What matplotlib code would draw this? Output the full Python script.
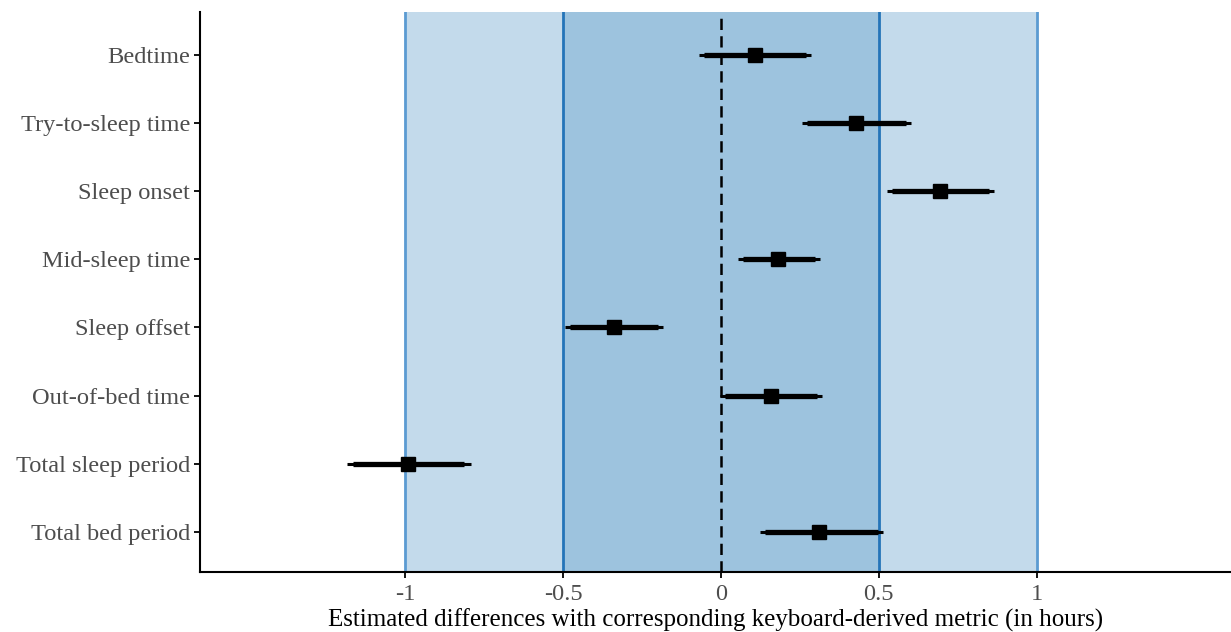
import matplotlib.pyplot as plt
import numpy as np

plt.rcParams['font.family'] = ['Liberation Serif', 'DejaVu Serif']

metrics = ["Bedtime", "Try-to-sleep time", "Sleep onset", "Mid-sleep time",
           "Sleep offset", "Out-of-bed time", "Total sleep period", "Total bed period"]
estimate = [0.108, 0.428, 0.694, 0.181, -0.339, 0.158, -0.992, 0.311]
# thick segment
inner_lo = [-0.054, 0.273, 0.542, 0.070, -0.478, 0.013, -1.166, 0.140]
inner_hi = [0.270, 0.586, 0.849, 0.298, -0.200, 0.304, -0.815, 0.497]
# thin segment
outer_lo = [-0.070, 0.257, 0.526, 0.054, -0.494, -0.003, -1.185, 0.124]
outer_hi = [0.285, 0.602, 0.865, 0.314, -0.184, 0.320, -0.792, 0.513]

xticks = [-1, -0.5, 0, 0.5, 1]
xticklabels = ["-1", "-0.5", "0", "0.5", "1"]

ypos = np.arange(len(metrics), 0, -1)

fig = plt.figure(figsize=(12.31, 6.32), dpi=100)
ax = fig.add_axes([200/1231, 60/632, 1 - 200/1231, 560/632])

ax.axvspan(-1, 1, color='#c3daeb', lw=0, zorder=0)
ax.axvspan(-0.5, 0.5, color='#9dc3de', lw=0, zorder=0.5)
for v in (-1, 1):
    ax.axvline(v, color='#5b9bd2', lw=2, zorder=1)
for v in (-0.5, 0.5):
    ax.axvline(v, color='#2474b8', lw=2, zorder=1)
ax.axvline(0, color='black', lw=1.8, ls=(0, (4.5, 2.5)), zorder=1.5)

ax.hlines(ypos, outer_lo, outer_hi, color='black', lw=2.2, zorder=2)
ax.hlines(ypos, inner_lo, inner_hi, color='black', lw=3.8, zorder=2.5)
ax.plot(estimate, ypos, ls='none', marker='s', ms=10, color='black', zorder=3)

ax.set_xlim(-1.651, 1.616)
ax.set_ylim(0.41, 8.63)
ax.set_xticks(xticks)
ax.set_xticklabels(xticklabels)
ax.set_yticks(ypos)
ax.set_yticklabels(metrics)

for s in ('top', 'right'):
    ax.spines[s].set_visible(False)
for s in ('left', 'bottom'):
    ax.spines[s].set_linewidth(1.5)
ax.tick_params(axis='both', labelsize=17.6, labelcolor='#4d4d4d', width=1.3, length=4, pad=3)
ax.tick_params(axis='x', pad=5)
ax.set_xlabel("Estimated differences with corresponding keyboard-derived metric (in hours)",
              fontsize=18, labelpad=2)

fig.savefig("out.png", dpi=100)
